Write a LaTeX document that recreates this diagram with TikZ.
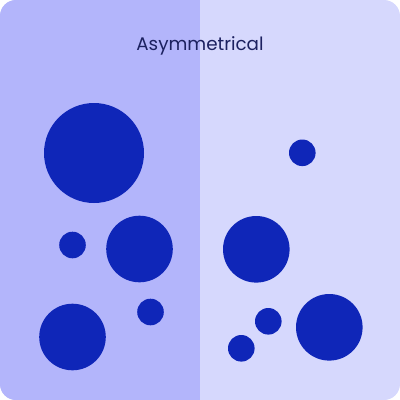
\documentclass[tikz,border=0pt]{standalone}
\usepackage{fontspec}
\setmainfont{Poppins}
\usepackage{tikz}

\definecolor{leftside}{HTML}{B3B5FB}
\definecolor{rightside}{HTML}{D6D8FD}
\definecolor{dotblue}{HTML}{0F26B8}
\definecolor{titlenavy}{HTML}{1C2160}

\begin{document}
\begin{tikzpicture}[x=1pt, y=-1pt, dot/.style={circle, fill=dotblue, inner sep=0pt}, big/.style={dot, minimum size=100pt}, mid/.style={dot, minimum size=66.6pt}, small/.style={dot, minimum size=26.6pt}]
                    \useasboundingbox (0,0) rectangle (400,400);
                    \begin{scope}
                    \clip[rounded corners=16pt] (0,0) rectangle (400,400);
                    \fill[rightside] (0,0) rectangle (400,400);
                    \fill[leftside] (0,0) rectangle (200,400);
                    \end{scope}
                    \node[text=titlenavy, font=\fontsize{18.3}{21}\selectfont] (title) at (200,46) {Asymmetrical};
                    % left half
                    \node[big] (A) at (94,153) {};
                    \node[small] (B) at (72.5,245) {};
                    \node[mid] (C) at (139.5,249) {};
                    \node[mid] (D) at (72.5,337) {};
                    \node[small] (E) at (150.5,312) {};
                    % right half
                    \node[small] (F) at (302.3,152.8) {};
                    \node[mid] (G) at (256.3,249.3) {};
                    \node[small] (H) at (268.3,321.3) {};
                    \node[small] (I) at (241.3,348.3) {};
                    \node[mid] (J) at (329.3,327.3) {};
                \end{tikzpicture}
\end{document}
